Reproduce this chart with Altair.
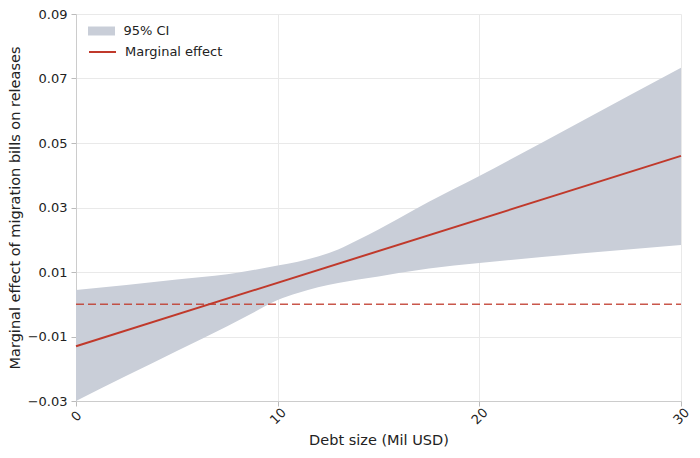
import altair as alt
import pandas as pd

# Confidence band
band_x = [0, 2.5, 5, 7.5, 8.5, 10, 11, 12, 13, 14, 15, 16, 17.5, 20, 25, 30]
band_upper = [0.0044, 0.0060, 0.0077, 0.0093, 0.0103, 0.0120, 0.0132, 0.0148, 0.0170, 0.0200,
              0.0232, 0.0266, 0.0318, 0.0398, 0.0565, 0.0733]
band_lower = [-0.0300, -0.0222, -0.0145, -0.0068, -0.0036, 0.0013, 0.0035, 0.0053, 0.0066, 0.0077,
              0.0086, 0.0097, 0.0111, 0.0128, 0.0157, 0.0184]

# Marginal effect line
line_x = [0, 30]
line_y = [-0.013, 0.046]

# Zero reference line
zero_x = [0, 30]
zero_y = [0.0, 0.0]

y_ticks = [-0.03, -0.01, 0.01, 0.03, 0.05, 0.07, 0.09]
x_ticks = [0, 10, 20, 30]

RED = "#c0392b"
BAND = "#c9ced8"
FONT = "DejaVu Sans"

band_df = pd.DataFrame({"x": band_x, "lower": band_lower, "upper": band_upper, "series": "95% CI"})
line_df = pd.DataFrame({"x": line_x, "y": line_y, "series": "Marginal effect"})
zero_df = pd.DataFrame({"x": zero_x, "y": zero_y})

x_enc = alt.X("x:Q", scale=alt.Scale(domain=[0, 30], nice=False, zero=False),
              axis=alt.Axis(values=x_ticks, title="Debt size (Mil USD)", labelAngle=315,
                            labelAlign="center", labelBaseline="middle", labelPadding=10,
                            format="d"))
y_scale = alt.Scale(domain=[-0.03, 0.09], nice=False, zero=False)
y_axis = alt.Axis(values=y_ticks, format=".2f", title="Marginal effect of migration bills on releases")

band = alt.Chart(band_df).mark_area(opacity=1.0, interpolate="monotone").encode(
    x=x_enc,
    y=alt.Y("lower:Q", scale=y_scale, axis=y_axis),
    y2="upper:Q",
    fill=alt.Fill("series:N", scale=alt.Scale(domain=["95% CI"], range=[BAND]),
                  legend=alt.Legend(title=None, orient="none", legendX=16.5, legendY=8,
                                    symbolType="M-1.5,-0.5H1.5V0.5H-1.5Z", symbolSize=324,
                                    symbolStrokeWidth=0, labelOffset=13,
                                    labelFontSize=13, labelFont=FONT, labelColor="#222", padding=0)),
)

zero = alt.Chart(zero_df).mark_line(color=RED, strokeDash=[8, 4], strokeWidth=1.5, opacity=0.85).encode(
    x="x:Q", y="y:Q"
)

line = alt.Chart(line_df).mark_line(strokeWidth=2).encode(
    x="x:Q",
    y="y:Q",
    stroke=alt.Stroke("series:N", scale=alt.Scale(domain=["Marginal effect"], range=[RED]),
                      legend=alt.Legend(title=None, orient="none", legendX=12, legendY=23.5,
                                        symbolType="stroke", symbolSize=729, symbolStrokeWidth=2,
                                        labelOffset=8, labelFontSize=13, labelFont=FONT,
                                        labelColor="#222", padding=0)),
)

chart = alt.layer(band, zero, line).resolve_scale(fill="independent", stroke="independent").properties(
    width=605, height=387,
    autosize=alt.AutoSizeParams(type="none"),
    padding={"left": 68, "top": 6, "right": 11, "bottom": 49},
).configure_view(stroke=None).configure_axis(
    labelFont=FONT, labelFontSize=13, labelColor="#222",
    titleFont=FONT, titleFontSize=14.5, titleColor="#222", titleFontWeight="normal",
    domainColor="#cccccc", tickColor="#bbbbbb", tickSize=5,
    gridColor="#e9e9e9", gridWidth=1,
).configure_axisY(labelPadding=4, titlePadding=5).configure_axisX(titlePadding=7)

chart.save("out.html", embed_options={"renderer": "svg", "actions": False})
